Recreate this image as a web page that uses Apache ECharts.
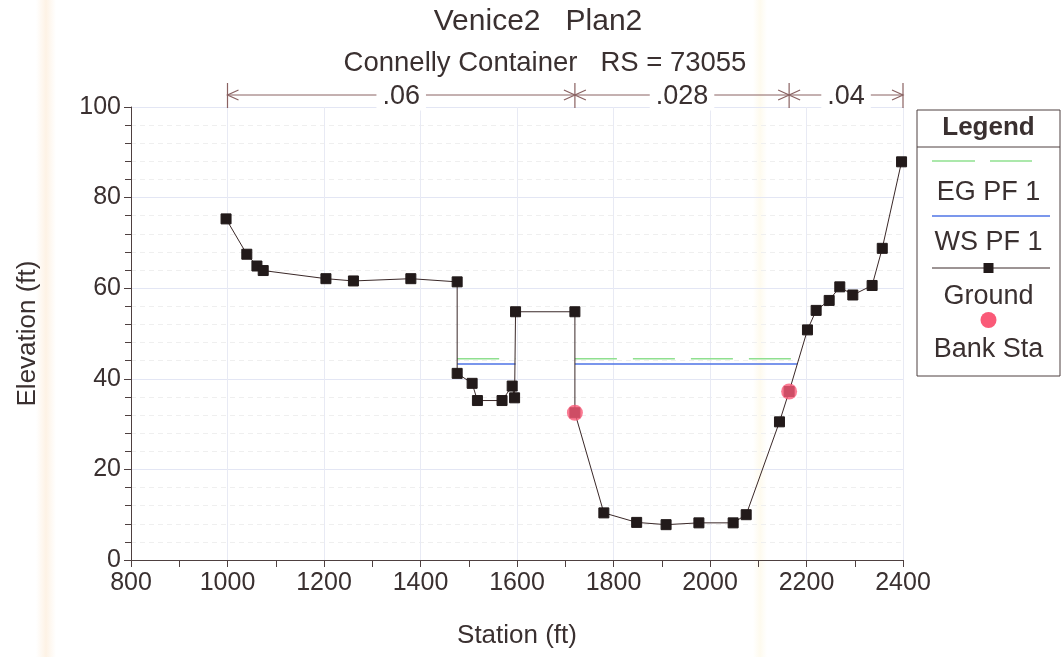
<!DOCTYPE html>
<html>
<head>
<meta charset="utf-8">
<script src="https://cdn.jsdelivr.net/npm/echarts@6/dist/echarts.min.js"></script>
<style>
  html, body { margin: 0; padding: 0; background: #ffffff; }
  #chart { width: 1062px; height: 657px; }
</style>
</head>
<body>
<div id="chart"></div>
<script>
// Cross section: ground survey points (station ft, elevation ft)
const groundStation = [997, 1040, 1061, 1074, 1204, 1261, 1380, 1476, 1476, 1507, 1518, 1569, 1590, 1595, 1597, 1720, 1720, 1780, 1848, 1909, 1977, 2048, 2075, 2144, 2164, 2202, 2220, 2247, 2269, 2296, 2336, 2357, 2397];
const groundElev    = [75.3, 67.5, 64.9, 63.9, 62.1, 61.6, 62.1, 61.4, 41.2, 39.0, 35.2, 35.2, 38.4, 35.8, 54.8, 54.8, 32.5, 10.4, 8.3, 7.8, 8.2, 8.2, 10.0, 30.5, 37.2, 50.8, 55.1, 57.3, 60.3, 58.5, 60.6, 68.8, 87.9];

// Bank stations
const bankStation = [1720, 2164];
const bankElev    = [32.5, 37.2];

// Profile results
const wsElev = 43.25;   // WS PF 1
const egElev = 44.4;    // EG PF 1
const wetStart = [1476, 1720];
const wetEnd   = [1597, 2181];

// Manning's n regions
const nStart = [1000, 1720, 2164];
const nEnd   = [1720, 2164, 2400];
const nLabel = ['.06', '.028', '.04'];

// Axis ticks
const xMin = 800, xMax = 2400, xStep = 200;
const yMin = 0, yMax = 100, yStep = 20;

const FONT = "'Liberation Sans',Arial,sans-serif";
const INK = '#3a3030';
const AXIS = '#4e4040';

function levelLine(elev) {
  const pts = [];
  for (let i = 0; i < wetStart.length; i++) {
    if (i > 0) pts.push([(wetEnd[i - 1] + wetStart[i]) / 2, '-']);
    pts.push([wetStart[i], elev], [wetEnd[i], elev]);
  }
  return pts;
}

const chart = echarts.init(document.getElementById('chart'), null, { renderer: 'canvas' });

chart.setOption({
  backgroundColor: '#ffffff',
  animation: false,
  textStyle: { fontFamily: FONT, color: INK },
  grid: { left: 131, right: 159, top: 107, bottom: 97, containLabel: false },
  xAxis: {
    type: 'value', min: xMin, max: xMax, interval: xStep,
    name: 'Station (ft)', nameLocation: 'middle', nameGap: 63,
    nameTextStyle: { fontFamily: FONT, fontSize: 26, color: INK },
    axisLine: { show: true, onZero: false, lineStyle: { color: AXIS, width: 1 } },
    axisTick: { show: true, inside: false, length: 7, lineStyle: { color: AXIS } },
    minorTick: { show: true, splitNumber: 2, length: 7, lineStyle: { color: AXIS } },
    axisLabel: { fontFamily: FONT, fontSize: 25, color: INK, margin: 11, formatter: v => String(v) },
    splitLine: { show: true, lineStyle: { color: '#e8eaf4', width: 1 } },
    minorSplitLine: { show: false }
  },
  yAxis: {
    type: 'value', min: yMin, max: yMax, interval: yStep,
    name: 'Elevation (ft)', nameLocation: 'middle', nameGap: 90,
    nameTextStyle: { fontFamily: FONT, fontSize: 26, color: INK },
    axisLine: { show: true, onZero: false, lineStyle: { color: AXIS, width: 1 } },
    axisTick: { show: true, inside: false, length: 7, lineStyle: { color: AXIS } },
    minorTick: { show: true, splitNumber: 5, length: 6, lineStyle: { color: AXIS } },
    axisLabel: { fontFamily: FONT, fontSize: 25, color: INK, margin: 10, formatter: v => String(v) },
    splitLine: { show: true, lineStyle: { color: '#e3e6f4', width: 1 } },
    minorSplitLine: { show: true, lineStyle: { color: '#efefef', width: 1, type: [5, 4] } }
  },
  series: [
    {
      name: 'EG PF 1', type: 'line', data: levelLine(egElev),
      showSymbol: false, connectNulls: false, z: 3,
      lineStyle: { color: '#8fe08f', width: 1.5, type: [42, 16] }
    },
    {
      name: 'WS PF 1', type: 'line', data: levelLine(wsElev),
      showSymbol: false, connectNulls: false, z: 3,
      lineStyle: { color: '#4f74e6', width: 1.5 }
    },
    {
      name: 'Ground', type: 'line',
      data: groundStation.map((s, i) => [s, groundElev[i]]),
      symbol: 'rect', symbolSize: 10, showSymbol: true, z: 4,
      lineStyle: { color: '#3a2828', width: 1 },
      itemStyle: { color: '#221a1a', borderColor: '#221a1a' }
    },
    {
      name: 'Bank Sta', type: 'scatter',
      data: bankStation.map((s, i) => [s, bankElev[i]]),
      symbol: 'circle', symbolSize: 16, z: 5,
      itemStyle: { color: '#fa5a78' }
    }
  ]
});

// Decorations that depend on axis positions: n-value brackets, titles, legend box
const g = [];
const yTop = chart.convertToPixel({ gridIndex: 0 }, [xMin, yMax])[1];
const arrowY = yTop - 12;
const lineColor = '#8a6262';
const px = s => chart.convertToPixel({ gridIndex: 0 }, [s, yMax])[0];

// faint paper tint bands
g.push({ type: 'rect', silent: true, z: -10, shape: { x: 36, y: 0, width: 20, height: 657 },
         style: { fill: new echarts.graphic.LinearGradient(0, 0, 1, 0, [
           { offset: 0, color: 'rgba(252,230,204,0)' },
           { offset: 0.5, color: 'rgba(252,230,204,0.5)' },
           { offset: 1, color: 'rgba(252,230,204,0)' }]) } });
g.push({ type: 'rect', silent: true, z: -10, shape: { x: 753, y: 0, width: 14, height: 657 },
         style: { fill: new echarts.graphic.LinearGradient(0, 0, 1, 0, [
           { offset: 0, color: 'rgba(253,246,222,0)' },
           { offset: 0.5, color: 'rgba(253,246,222,0.5)' },
           { offset: 1, color: 'rgba(253,246,222,0)' }]) } });

function arrowHead(xTip, dir) {
  // open arrowhead pointing in dir (+1 right, -1 left)
  return {
    type: 'polyline', silent: true,
    shape: { points: [[xTip - dir * 11, arrowY - 5], [xTip, arrowY], [xTip - dir * 11, arrowY + 5]] },
    style: { stroke: lineColor, lineWidth: 1.2, fill: null }
  };
}

const edges = [nStart[0]].concat(nEnd);
edges.forEach(s => {
  const x = px(s);
  g.push({ type: 'line', silent: true, shape: { x1: x, y1: arrowY - 12, x2: x, y2: arrowY + 13 },
           style: { stroke: lineColor, lineWidth: 1.2 } });
});
for (let i = 0; i < nLabel.length; i++) {
  const x1 = px(nStart[i]), x2 = px(nEnd[i]);
  g.push({ type: 'line', silent: true, shape: { x1: x1, y1: arrowY, x2: x2, y2: arrowY },
           style: { stroke: lineColor, lineWidth: 1 } });
  g.push(arrowHead(x1, -1));
  g.push(arrowHead(x2, 1));
  g.push({ type: 'text', silent: true, z: 10, x: (x1 + x2) / 2, y: arrowY + 2,
           style: { text: nLabel[i], fontFamily: FONT, fontSize: 27, fill: INK,
                    align: 'center', verticalAlign: 'middle',
                    backgroundColor: '#ffffff', padding: [0, 6] } });
}

// Titles
g.push({ type: 'text', silent: true, x: 538, y: 22,
         style: { text: 'Venice2   Plan2', fontFamily: FONT, fontSize: 30, fill: INK, align: 'center', verticalAlign: 'middle' } });
g.push({ type: 'text', silent: true, x: 545, y: 63,
         style: { text: 'Connelly Container   RS = 73055', fontFamily: FONT, fontSize: 27.5, fill: INK, align: 'center', verticalAlign: 'middle' } });

// Legend box
const L = { x: 917, y: 110, w: 143, h: 266, head: 37 };
const cx = L.x + L.w / 2;
g.push({ type: 'rect', silent: true, shape: { x: L.x, y: L.y, width: L.w, height: L.h },
         style: { fill: '#ffffff', stroke: AXIS, lineWidth: 1 } });
g.push({ type: 'line', silent: true, shape: { x1: L.x, y1: L.y + L.head, x2: L.x + L.w, y2: L.y + L.head },
         style: { stroke: AXIS, lineWidth: 1 } });
g.push({ type: 'text', silent: true, x: cx, y: L.y + 18,
         style: { text: 'Legend', fontFamily: FONT, fontWeight: 'bold', fontSize: 26, fill: INK, align: 'center', verticalAlign: 'middle' } });
// EG
[[932, 975], [990, 1032]].forEach(d => {
  g.push({ type: 'line', silent: true, shape: { x1: d[0], y1: 161, x2: d[1], y2: 161 },
           style: { stroke: '#8fe08f', lineWidth: 1.5 } });
});
g.push({ type: 'text', silent: true, x: cx, y: 193,
         style: { text: 'EG PF 1', fontFamily: FONT, fontSize: 27, fill: INK, align: 'center', verticalAlign: 'middle' } });
// WS
g.push({ type: 'line', silent: true, shape: { x1: 932, y1: 216, x2: 1050, y2: 216 },
         style: { stroke: '#4f74e6', lineWidth: 1.5 } });
g.push({ type: 'text', silent: true, x: cx, y: 243,
         style: { text: 'WS PF 1', fontFamily: FONT, fontSize: 27, fill: INK, align: 'center', verticalAlign: 'middle' } });
// Ground
g.push({ type: 'line', silent: true, shape: { x1: 932, y1: 268, x2: 1050, y2: 268 },
         style: { stroke: '#3a2828', lineWidth: 1 } });
g.push({ type: 'rect', silent: true, shape: { x: cx - 5, y: 263, width: 10, height: 10 },
         style: { fill: '#221a1a' } });
g.push({ type: 'text', silent: true, x: cx, y: 297,
         style: { text: 'Ground', fontFamily: FONT, fontSize: 27, fill: INK, align: 'center', verticalAlign: 'middle' } });
// Bank Sta
g.push({ type: 'circle', silent: true, shape: { cx: cx, cy: 320, r: 8 }, style: { fill: '#fa5a78' } });
g.push({ type: 'text', silent: true, x: cx, y: 350,
         style: { text: 'Bank Sta', fontFamily: FONT, fontSize: 27, fill: INK, align: 'center', verticalAlign: 'middle' } });

chart.setOption({ graphic: { elements: g } });
</script>
</body>
</html>
